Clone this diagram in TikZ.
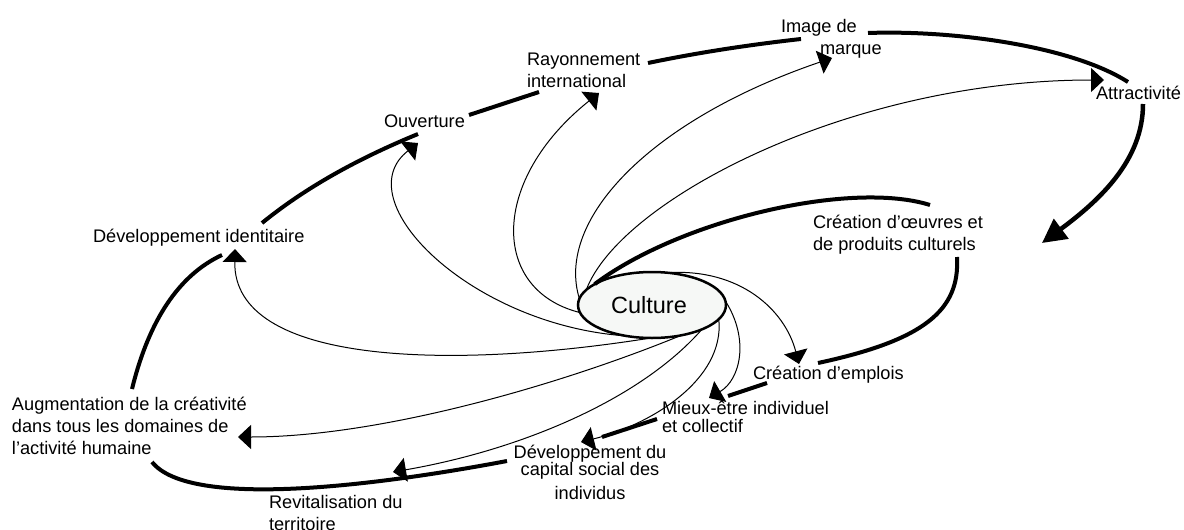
\documentclass[tikz,border=0pt]{standalone}
\usepackage{fontspec}
\setmainfont{Liberation Sans}
\usetikzlibrary{arrows.meta,shapes.geometric}
\definecolor{cfill}{RGB}{246,248,246}
\begin{document}
\begin{tikzpicture}[x=1pt,y=-1pt,
  lbl/.style={inner sep=0pt, outer sep=0pt, align=left, anchor=base west, font=\fontsize{18.2}{22}\selectfont},
  conn/.style={line width=1pt, -{Triangle[length=13pt,width=24pt]}},
  cycl/.style={line width=4pt},
  bigarr/.style={line width=4.5pt, -{Triangle[length=24pt,width=24pt]}},
  core/.style={ellipse, draw, line width=2.5pt, fill=cfill, minimum width=148pt, minimum height=66pt, inner sep=0pt, outer sep=0pt, font=\fontsize{23.5}{28}\selectfont}
]
\useasboundingbox (0,0) rectangle (1184,530);
\fill[white] (0,0) rectangle (1184,530);

% nodes (multi-line labels are anchored on the baseline of their last line)
\node[core] (culture) at (652,305) {\hspace*{-6pt}Culture};
\node[lbl] (imgm) at (781,54) {Image de\\\hspace*{39pt}marque};
\node[lbl] (rayon) at (527,87) {Rayonnement\\international};
\node[lbl] (ouvert) at (384,127) {Ouverture};
\node[lbl] (attract) at (1096,99) {Attractivité};
\node[lbl] (devid) at (93,242) {Développement identitaire};
\node[lbl] (creaoeuv) at (813,250) {Création d’œuvres et\\de produits culturels};
\node[lbl] (creaemp) at (753,379) {Création d’emplois};
\node[lbl, font=\fontsize{18.2}{18}\selectfont] (mieux) at (662,432) {Mieux-être individuel\\et collectif};
\node[lbl, align=center, anchor=base, font=\fontsize{18.2}{17}\selectfont] (devcap) at (590,499) {Développement du\\capital social des\\[7pt]individus};
\node[lbl] (augm) at (12,454) {Augmentation de la créativité\\dans tous les domaines de\\l’activité humaine};
\node[lbl] (revit) at (269,530) {Revitalisation du\\territoire};

% end points of the cycle
\coordinate (devidA) at (262,223);
\coordinate (ouvA) at (418,134);
\coordinate (ouvB) at (469,115);
\coordinate (rayA) at (539,92);
\coordinate (rayB) at (648,63);
\coordinate (imgA) at (801,39);
\coordinate (imgB) at (868,33);
\coordinate (attA) at (1128,82);
\coordinate (attB) at (1143,104);
\coordinate (oeuvA) at (1042,243);
\coordinate (oeuvT) at (930,205);
\coordinate (oeuvB) at (957,257);
\coordinate (empA) at (818,363);
\coordinate (empB) at (767,383);
\coordinate (mieuxA) at (728,396);
\coordinate (mieuxB) at (657,419);
\coordinate (capA) at (602,437);
\coordinate (capB) at (507,461);
\coordinate (augA) at (152,462);
\coordinate (augB) at (132,389);
\coordinate (devidB) at (222,255);
% arrow tips
\coordinate (ouvTip) at (418,143);
\coordinate (rayTip) at (599,93);
\coordinate (imgTip) at (832,58);
\coordinate (attTip) at (1104,80);
\coordinate (empTip) at (799,364);
\coordinate (mieuxTip) at (709,398);
\coordinate (capTip) at (581,442);
\coordinate (revTip) at (393,472);
\coordinate (augTip) at (238,437);
\coordinate (devidTip) at (235,249);

% thick cycle
\draw[cycl] (devidA) .. controls (305,188) and (357,159) .. (ouvA);
\draw[cycl] (ouvB) -- (rayA);
\draw[cycl] (rayB) .. controls (696,53) and (747,45) .. (imgA);
\draw[cycl] (imgB) .. controls (950,30) and (1070,45) .. (attA);
\draw[bigarr] (attB) .. controls (1143,160) and (1100,200) .. (oeuvA);
\draw[cycl] (culture.160) .. controls (680,220) and (850,180) .. (oeuvT);
\draw[cycl] (oeuvB) .. controls (960,310) and (925,340) .. (empA);
\draw[cycl] (empB) -- (mieuxA);
\draw[cycl] (mieuxB) -- (capA);
\draw[cycl] (capB) .. controls (380,485) and (190,510) .. (augA);
\draw[cycl] (augB) .. controls (149,320) and (179,275) .. (devidB);

% thin arrows from Culture
\draw[conn] (culture.230) .. controls (470,325) and (345,200) .. (ouvTip);
\draw[conn] (culture.186) .. controls (490,290) and (490,180) .. (rayTip);
\draw[conn] (culture.175) .. controls (555,220) and (650,120) .. (imgTip);
\draw[conn] (culture.167) .. controls (620,200) and (850,80) .. (attTip);
\draw[conn] (culture.268) .. controls (450,370) and (233,365) .. (devidTip);
\draw[conn] (culture.314) .. controls (560,385) and (380,437) .. (augTip);
\draw[conn] (culture.334) .. controls (640,400) and (520,450) .. (revTip);
\draw[conn] (culture.348) .. controls (725,380) and (650,425) .. (capTip);
\draw[conn] (culture.3) .. controls (750,340) and (740,380) .. (mieuxTip);
\draw[conn] (culture.65) .. controls (740,268) and (785,310) .. (empTip);
\end{tikzpicture}
\end{document}
